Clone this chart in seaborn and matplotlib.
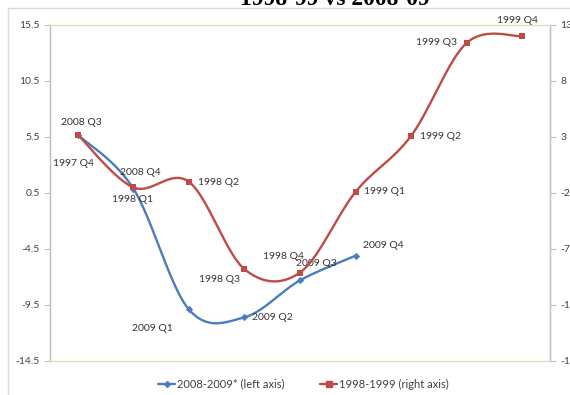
import numpy as np
import pandas as pd
import seaborn as sns
import matplotlib
matplotlib.use("Agg")
import matplotlib.pyplot as plt
from matplotlib.lines import Line2D
from matplotlib.patches import Rectangle

# Quarterly growth, 2008-09 episode (left axis)
quarters_recent = ["2008 Q3", "2008 Q4", "2009 Q1", "2009 Q2", "2009 Q3", "2009 Q4"]
growth_recent = [5.7, 0.9, -9.9, -10.6, -7.3, -5.1]

# Quarterly growth, 1998-99 episode (right axis)
quarters_past = ["1997 Q4", "1998 Q1", "1998 Q2", "1998 Q3", "1998 Q4",
                 "1999 Q1", "1999 Q2", "1999 Q3", "1999 Q4"]
growth_past = [3.2, -1.5, -1.0, -8.8, -9.1, -1.9, 3.1, 11.4, 12.0]

left_ticks = [-14.5, -9.5, -4.5, 0.5, 5.5, 10.5, 15.5]
right_ticks = [-17, -12, -7, -2, 3, 8, 13]

title_text = "1998-99 vs 2008-09"
legend_recent = "2008-2009* (left axis)"
legend_past = "1998-1999 (right axis)"

BLUE = "#4A7EBB"
RED = "#BE4B48"
TEXT = "#404040"
AXIS_GREY = "#BFBFBF"
GRID_GREEN = "#DCE6B4"

sns.set_style("white")
plt.rcParams["font.family"] = ["Lato", "DejaVu Sans"]
plt.rcParams["font.size"] = 7.5


def smooth_curve(x, y, n=40):
    """Piecewise cubic Bezier through the points (Catmull-Rom style tangents)."""
    pts = np.column_stack([x, y]).astype(float)
    m = len(pts)
    xs, ys = [], []
    for i in range(m - 1):
        p0 = pts[max(i - 1, 0)]
        p1 = pts[i]
        p2 = pts[i + 1]
        p3 = pts[min(i + 2, m - 1)]
        c1 = p1 + (p2 - p0) / 6.0
        c2 = p2 - (p3 - p1) / 6.0
        t = np.linspace(0, 1, n, endpoint=(i == m - 2))[:, None]
        b = ((1 - t) ** 3) * p1 + 3 * ((1 - t) ** 2) * t * c1 \
            + 3 * (1 - t) * t ** 2 * c2 + t ** 3 * p2
        xs.append(b[:, 0])
        ys.append(b[:, 1])
    return np.concatenate(xs), np.concatenate(ys)


W, H = 570, 395
fig = plt.figure(figsize=(W / 100, H / 100), dpi=100)
ax = fig.add_axes([50 / W, 1 - 361 / H, 500 / W, 336 / H])
ax2 = ax.twinx()

# category positions (centred in each slot)
pos_recent = np.arange(len(quarters_recent)) + 0.5
pos_past = np.arange(len(quarters_past)) + 0.5

df_recent = pd.DataFrame({"pos": pos_recent, "growth": growth_recent, "quarter": quarters_recent})
df_past = pd.DataFrame({"pos": pos_past, "growth": growth_past, "quarter": quarters_past})

sx, sy = smooth_curve(df_recent["pos"], df_recent["growth"])
sns.lineplot(x=sx, y=sy, sort=False, estimator=None, ax=ax, color=BLUE, lw=1.7)
sns.scatterplot(data=df_recent, x="pos", y="growth", ax=ax, marker="D", s=14,
                color=BLUE, edgecolor=BLUE, linewidth=0, zorder=5)

rx, ry = smooth_curve(df_past["pos"], df_past["growth"])
sns.lineplot(x=rx, y=ry, sort=False, estimator=None, ax=ax2, color=RED, lw=1.7)
sns.scatterplot(data=df_past, x="pos", y="growth", ax=ax2, marker="s", s=22,
                color=RED, edgecolor=RED, linewidth=0, zorder=5)

# point labels: (dx, dy) in pixels, alignment
recent_label_pos = {
    "2008 Q3": (4, 12, "center"),
    "2008 Q4": (7, 16, "center"),
    "2009 Q1": (-37, -19, "center"),
    "2009 Q2": (8, 0, "left"),
    "2009 Q3": (16, 17, "center"),
    "2009 Q4": (7, 10, "left"),
}
past_label_pos = {
    "1997 Q4": (-4, -29, "center"),
    "1998 Q1": (-1, -12, "center"),
    "1998 Q2": (9, -1, "left"),
    "1998 Q3": (-25, -10, "center"),
    "1998 Q4": (-17, 16, "center"),
    "1999 Q1": (8, 0, "left"),
    "1999 Q2": (9, -1, "left"),
    "1999 Q3": (-10, 0, "right"),
    "1999 Q4": (-5, 16, "center"),
}

for _, row in df_recent.iterrows():
    dx, dy, ha = recent_label_pos[row["quarter"]]
    ax.annotate(row["quarter"], (row["pos"], row["growth"]), xytext=(dx, dy),
                textcoords="offset pixels", ha=ha, va="center", color="#333333",
                fontsize=7.5, zorder=6)
for _, row in df_past.iterrows():
    dx, dy, ha = past_label_pos[row["quarter"]]
    ax2.annotate(row["quarter"], (row["pos"], row["growth"]), xytext=(dx, dy),
                 textcoords="offset pixels", ha=ha, va="center", color="#333333",
                 fontsize=7.5, zorder=6)

ax.set_xlim(0, len(quarters_past))
ax.set_ylim(left_ticks[0], left_ticks[-1])
ax2.set_ylim(right_ticks[0], right_ticks[-1])
ax.set_yticks(left_ticks)
ax.set_yticklabels([f"{v:g}" for v in left_ticks])
ax2.set_yticks(right_ticks)
ax2.set_yticklabels([f"{v:g}" for v in right_ticks])
ax.set_xticks([])
ax.set_xlabel("")
ax.set_ylabel("")
ax2.set_ylabel("")

for a in (ax, ax2):
    a.set_facecolor("none")
    a.tick_params(axis="y", length=4.3, width=0.8, color=AXIS_GREY, labelcolor=TEXT,
                  labelsize=7.5, pad=3)
    a.spines["top"].set_color(GRID_GREEN)
    a.spines["bottom"].set_color(GRID_GREEN)
    a.spines["left"].set_color(AXIS_GREY)
    a.spines["right"].set_color(AXIS_GREY)
    for s in a.spines.values():
        s.set_linewidth(0.9)

# outer chart frame
fig.patches.append(Rectangle((8 / W, -0.1), 1.2, 1.1 - 8 / H, transform=fig.transFigure,
                             fill=False, edgecolor="#D9D9D9", linewidth=1.0))

fig.text(335 / W, 1 - 5 / H, title_text, ha="center", va="baseline",
         fontsize=17, fontweight="bold", family=["Liberation Serif", "DejaVu Serif"],
         color="black")

handles = [
    Line2D([], [], color=BLUE, lw=1.7, marker="D", markersize=3),
    Line2D([], [], color=RED, lw=1.7, marker="s", markersize=4),
]
fig.legend(handles, [legend_recent, legend_past], loc="center",
           bbox_to_anchor=(303 / W, 1 - 384 / H), ncol=2, frameon=False,
           fontsize=8, handlelength=1.6, handletextpad=0.1, columnspacing=3.2,
           labelcolor=TEXT)

fig.savefig("out.png", dpi=100)
